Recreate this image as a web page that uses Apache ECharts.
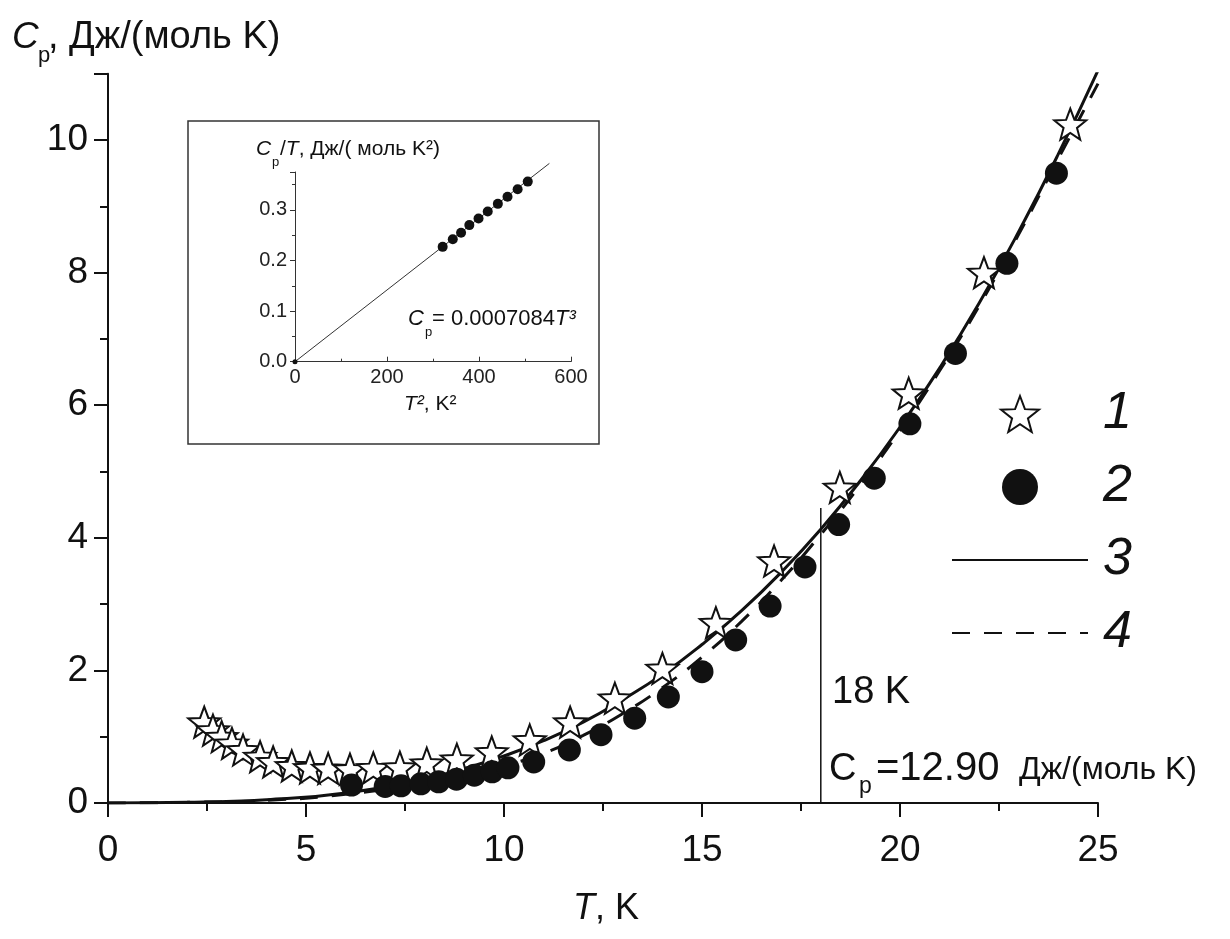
<!DOCTYPE html>
<html><head><meta charset="utf-8">
<script src="https://cdn.jsdelivr.net/npm/echarts@6/dist/echarts.min.js"></script>
<style>html,body{margin:0;padding:0;background:#fff}#c{width:1230px;height:939px}</style>
</head><body><div id="c"></div>
<script>
// ---- main chart data ----
const starT  = [2.43,2.65,2.87,3.13,3.41,3.84,4.17,4.64,5.1,5.56,6.11,6.7,7.37,8.05,8.81,9.69,10.65,11.67,12.8,14.0,15.35,16.82,18.48,20.22,22.12,24.3];
const starCp = [1.22,1.10,1.00,0.90,0.80,0.70,0.62,0.56,0.53,0.52,0.51,0.53,0.54,0.60,0.66,0.77,0.95,1.22,1.58,2.03,2.72,3.65,4.76,6.18,8.00,10.24];
const circT  = [6.15,7.0,7.4,7.9,8.35,8.8,9.25,9.7,10.1,10.75,11.65,12.45,13.3,14.15,15.0,15.85,16.72,17.6,18.45,19.35,20.25,21.4,22.7,23.95];
const circCp = [0.27,0.25,0.26,0.29,0.32,0.36,0.42,0.47,0.53,0.62,0.80,1.03,1.28,1.60,1.98,2.46,2.97,3.56,4.20,4.90,5.72,6.78,8.14,9.50];
const curveT   = [0,2,4,6,8,9,10,11,12,13,14,15,16,17,18,19,20,21,22,23,24,25];
const solidCp  = [0,0.01,0.05,0.15,0.36,0.52,0.71,0.94,1.22,1.56,1.94,2.39,2.90,3.48,4.13,4.86,5.67,6.56,7.54,8.62,9.79,11.05];
const dashedCp = [0,0.01,0.04,0.13,0.30,0.42,0.56,0.75,1.02,1.35,1.74,2.20,2.74,3.36,4.05,4.80,5.62,6.52,7.50,8.58,9.72,10.85];
const markT  = [18, 18];
const markCp = [0, 4.45];
const xTicks = [0,5,10,15,20,25];
const yTicks = [0,2,4,6,8,10];
// ---- inset data ----
const insetT2  = [321,343,361,379,399,419,441,462,484,506];
const insetCpT = [0.227,0.242,0.255,0.270,0.283,0.297,0.312,0.326,0.341,0.356];
const fitT2  = [0, 553];
const fitCpT = [0, 0.392];
const originT2 = [0], originCpT = [0];
const legendNames = ['1','2','3','4'];

const zip = (a,b) => a.map((v,i)=>[v,b[i]]);
const FF = '"Liberation Sans", Arial, sans-serif';
const STAR = 'path://M0,-10 L2.47,-3.40 L9.51,-3.09 L3.99,1.30 L5.88,8.09 L0,4.2 L-5.88,8.09 L-3.99,1.30 L-9.51,-3.09 L-2.47,-3.40 Z';
const INK = '#111';

function txt(x, y, text, size, italic) {
  return {type:'text', x:x, y:y, silent:true, z:10,
    style:{text:text, fontSize:size, fontFamily:FF, fontStyle: italic?'italic':'normal', fill:INK, align:'left', verticalAlign:'middle'}};
}
function rich(x, y, text, size) {
  return {type:'text', x:x, y:y, silent:true, z:10,
    style:{text:text, fontSize:size, fontFamily:FF, fill:INK, align:'left', verticalAlign:'middle',
      rich:{ n:{fontSize:size, fontFamily:FF, fill:INK}, i:{fontSize:size, fontFamily:FF, fontStyle:'italic', fill:INK} }}};
}
const hiddenSym = {color:'rgba(0,0,0,0)', borderWidth:0, opacity:0};

const chart = echarts.init(document.getElementById('c'), null, {renderer:'canvas'});
chart.setOption({
  animation:false,
  backgroundColor:'#fff',
  grid:[
    {left:108, right:132, top:73.7, bottom:136},
    {left:295, right:659, top:172, bottom:577.3}
  ],
  xAxis:[
    {gridIndex:0, type:'value', min:0, max:25, interval:5,
     axisLine:{lineStyle:{color:INK, width:2}},
     axisTick:{inside:false, length:14, lineStyle:{color:INK, width:2}},
     minorTick:{show:true, splitNumber:2, length:8, lineStyle:{color:INK, width:2}},
     splitLine:{show:false},
     axisLabel:{fontSize:37, fontFamily:FF, color:INK, margin:29}},
    {gridIndex:1, type:'value', min:0, max:600, interval:200,
     axisLine:{lineStyle:{color:'#333', width:1}},
     axisTick:{inside:true, length:5, lineStyle:{color:'#333', width:1}},
     minorTick:{show:true, splitNumber:2, length:3, lineStyle:{color:'#333', width:1}},
     splitLine:{show:false},
     axisLabel:{fontSize:20, fontFamily:FF, color:'#222', margin:6}}
  ],
  yAxis:[
    {gridIndex:0, type:'value', min:0, max:11, interval:2,
     axisLine:{show:true, lineStyle:{color:INK, width:2}},
     axisTick:{show:true, inside:false, length:14, lineStyle:{color:INK, width:2}},
     minorTick:{show:true, splitNumber:2, length:8, lineStyle:{color:INK, width:2}},
     splitLine:{show:false},
     axisLabel:{fontSize:37, fontFamily:FF, color:INK, margin:20, showMaxLabel:false}},
    {gridIndex:1, type:'value', min:0, max:0.375, interval:0.1,
     axisLine:{show:true, lineStyle:{color:'#333', width:1}},
     axisTick:{show:true, inside:false, length:5, lineStyle:{color:'#333', width:1}},
     minorTick:{show:true, splitNumber:2, length:3, lineStyle:{color:'#333', width:1}},
     splitLine:{show:false},
     axisLabel:{fontSize:20, fontFamily:FF, color:'#222', margin:8, showMaxLabel:false,
       formatter:v=>v.toFixed(1)}}
  ],
  legend:{
    data:[{name:legendNames[0]},{name:legendNames[1]},
          {name:legendNames[2], itemStyle:hiddenSym},{name:legendNames[3], itemStyle:hiddenSym}],
    orient:'vertical', left:946, top:383,
    itemWidth:136, itemHeight:36, itemGap:21, selectedMode:false,
    textStyle:{fontSize:52, fontStyle:'italic', fontFamily:FF, color:INK, lineHeight:52, padding:[0,0,0,10]}
  },
  series:[
    {name:'3', type:'line', data:zip(curveT, solidCp), smooth:true, symbol:'none',
     lineStyle:{color:INK, width:3}, itemStyle:{color:INK}, z:2, silent:true},
    {name:'4', type:'line', data:zip(curveT, dashedCp), smooth:true, symbol:'none',
     lineStyle:{color:INK, width:3, type:[18,14]}, itemStyle:{color:INK}, z:2, silent:true},
    {name:'mark18', type:'line', data:zip(markT, markCp), symbol:'none',
     lineStyle:{color:INK, width:1.5}, z:2, silent:true},
    {name:'1', type:'scatter', data:zip(starT, starCp), symbol:STAR, symbolSize:[32,31],
     itemStyle:{color:'#fff', borderColor:INK, borderWidth:2, opacity:1}, z:3, silent:true},
    {name:'2', type:'scatter', data:zip(circT, circCp), symbol:'circle', symbolSize:23,
     itemStyle:{color:INK, opacity:1}, z:4, silent:true},
    // inset
    {name:'fit', type:'line', xAxisIndex:1, yAxisIndex:1, data:zip(fitT2, fitCpT), symbol:'none', clip:false,
     lineStyle:{color:'#333', width:1}, z:3, silent:true},
    {name:'inset', type:'scatter', xAxisIndex:1, yAxisIndex:1, data:zip(insetT2, insetCpT), symbol:'circle', symbolSize:10,
     itemStyle:{color:INK, opacity:1}, z:4, silent:true},
    {name:'origin', type:'scatter', xAxisIndex:1, yAxisIndex:1, data:zip(originT2, originCpT), symbol:'circle', symbolSize:5,
     itemStyle:{color:INK, opacity:1}, z:4, silent:true, clip:false}
  ],
  graphic:[
    {type:'rect', shape:{x:188, y:121, width:411, height:323}, style:{fill:'none', stroke:'#333', lineWidth:1.5}, silent:true, z:1},
    // main y title
    txt(12, 37.5, 'C', 37, true),
    txt(38, 56, 'p', 22, false),
    txt(48, 37.5, ', Дж/(моль K)', 38, false),
    // main x title
    rich(573, 909, '{i|T}{n|, K}', 36),
    // annotation
    txt(832, 692.5, '18 K', 38, false),
    txt(829, 769.5, 'C', 38, false),
    txt(859, 787, 'p', 23, false),
    txt(876, 768.5, '=12.90', 40, false),
    txt(1019, 770, 'Дж/(моль K)', 32, false),
    // inset texts
    txt(256, 149, 'C', 21, true),
    txt(272, 162, 'p', 13, false),
    rich(280, 149, '{n|/}{i|T}{n|, Дж/( моль K²)}', 21),
    txt(408, 319, 'C', 22, true),
    txt(425, 332, 'p', 13, false),
    rich(432, 319, '{n|= 0.0007084}{i|T³}', 22),
    rich(404, 404, '{i|T²}{n|, K²}', 21)
  ]
});
</script></body></html>
